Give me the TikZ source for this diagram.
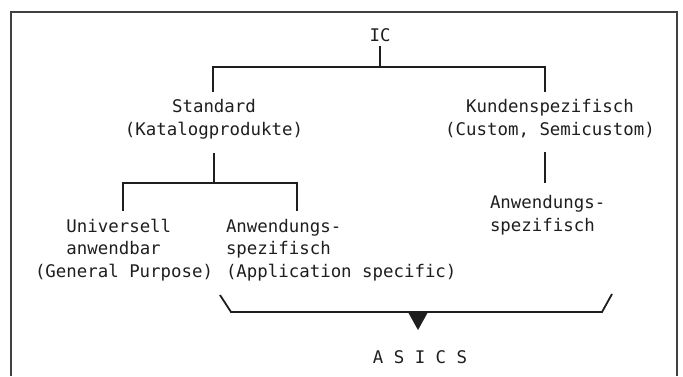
\documentclass[tikz,border=0pt]{standalone}
\usepackage{fontspec}
\setmonofont{DejaVu Sans Mono}
\definecolor{ink}{HTML}{1E1E1E}
\tikzset{
  lbl/.style={font=\ttfamily\fontsize{17.4}{22.4}\selectfont, text=ink, inner sep=0pt, outer sep=0pt},
  conn/.style={draw=ink, line width=1.8pt},
  frame/.style={draw=ink!85, line width=1.2pt}
}
\begin{document}
\begin{tikzpicture}[x=1pt, y=-1pt]
  \useasboundingbox (0,0) rectangle (683,376);
  % outer frame (open at the bottom edge)
  \draw[frame] (11,376) -- (11,12) -- (677,12) -- (677,376);

  % labels (multi-line nodes are placed by the baseline of their last line)
  \node[lbl, anchor=base] (ic) at (380,41) {IC};
  \node[lbl, anchor=base, align=center] (std) at (214,135) {Standard\\(Katalogprodukte)};
  \node[lbl, anchor=base, align=center] (kun) at (550,135) {Kundenspezifisch\\(Custom, Semicustom)};
  \node[lbl, anchor=base west, align=left] (univ) at (35,277)
    {\phantom{xxx}Universell\\\phantom{xxx}anwendbar\\(General Purpose)};
  \node[lbl, anchor=base west, align=left] (appl) at (226,277)
    {Anwendungs-\\spezifisch\\(Application specific)};
  \node[lbl, anchor=base west, align=left] (kappl) at (490,231)
    {Anwendungs-\\spezifisch};
  \node[lbl, anchor=base] (asics) at (420,363) {A S I C S};

  % junction points of the tree
  \coordinate (j1) at (380,67);
  \coordinate (s1) at (213,92);
  \coordinate (k1) at (545,92);
  \coordinate (s2) at (214,153);
  \coordinate (s3) at (214,183);
  \coordinate (u1) at (123,211);
  \coordinate (a1) at (297,211);
  \coordinate (k2) at (545,152);
  \coordinate (k3) at (545,183);

  % first level: IC -> Standard / Kundenspezifisch
  \draw[conn] ([yshift=-5pt]ic.south) -- (j1);
  \draw[conn] (s1) |- (j1) -| (k1);
  % second level below Standard
  \draw[conn] (s2) -- (s3);
  \draw[conn] (u1) |- (s3) -| (a1);
  % below Kundenspezifisch
  \draw[conn] (k2) -- (k3);

  % bracket collecting the application specific branches
  \coordinate (b1) at (220,295);
  \coordinate (b2) at (231,312);
  \coordinate (b3) at (602,312);
  \coordinate (b4) at (612,294);
  \draw[conn, line join=miter] (b1) -- (b2) -- (b3) -- (b4);
  % pointer towards ASICS
  \coordinate (t1) at (408,312);
  \coordinate (t2) at (428,312);
  \coordinate (t3) at (418,330);
  \fill[ink] (t1) -- (t2) -- (t3) -- cycle;
\end{tikzpicture}
\end{document}
